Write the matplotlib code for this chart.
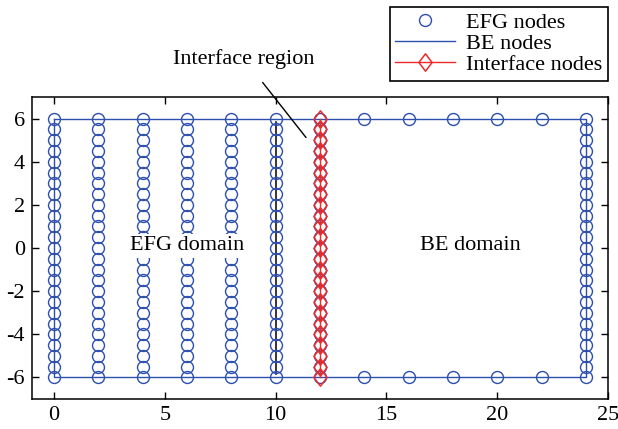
import numpy as np
import matplotlib
matplotlib.use("Agg")
import matplotlib.pyplot as plt
from matplotlib.path import Path

plt.rcParams['font.family'] = ['Liberation Serif', 'DejaVu Serif']
plt.rcParams['axes.unicode_minus'] = False

# Node layout
column_x = [0, 2, 4, 6, 8, 10, 12, 24]
node_y = [-6.0, -5.5, -5.0, -4.5, -4.0, -3.5, -3.0, -2.5, -2.0, -1.5, -1.0, -0.5,
          0.0, 0.5, 1.0, 1.5, 2.0, 2.5, 3.0, 3.5, 4.0, 4.5, 5.0, 5.5, 6.0]
edge_x = [14, 16, 18, 20, 22]
edge_y = [-6.0, 6.0]

# Boundary element outline
be_x = [0, 24, 24, 0, 0]
be_y = [6, 6, -6, -6, 6]

# Interface column
interface_x = 12
divider_x = 10

blue = '#2d4fae'
red = '#ee2a2a'

efg_x = [cx for cx in column_x for _ in node_y] + [ex for ex in edge_x for _ in edge_y]
efg_y = [ny for _ in column_x for ny in node_y] + [ey for _ in edge_x for ey in edge_y]

# Diamond slightly narrower than tall
diamond = Path([(0, 1), (0.76, 0), (0, -1), (-0.76, 0), (0, 1)],
               [Path.MOVETO, Path.LINETO, Path.LINETO, Path.LINETO, Path.CLOSEPOLY])

fs = 16

fig = plt.figure(figsize=(6.18, 4.29), dpi=100)
ax = fig.add_axes([32 / 618, 1 - 399 / 429, (608 - 32) / 618, (399 - 97) / 429])

h_efg, = ax.plot(efg_x, efg_y, linestyle='none', marker='o', markersize=8.6,
                 markerfacecolor='none', markeredgecolor=blue, markeredgewidth=1.0,
                 label='EFG nodes', zorder=3)
h_be, = ax.plot(be_x, be_y, color=blue, linewidth=1.0, label='BE nodes', zorder=2)
h_if, = ax.plot([interface_x] * len(node_y), node_y, color=red, linewidth=1.0,
                marker=diamond, markersize=12.5, markerfacecolor='none',
                markeredgecolor=red, markeredgewidth=1.1,
                label='Interface nodes', zorder=4)

# Divider between the EFG columns and the interface
ax.plot([divider_x, divider_x], [5.85, -5.85], color='black', linewidth=1.1, zorder=2.5)

ax.text(6.0, 0.1, 'EFG domain', fontsize=fs, ha='center', va='center', zorder=5,
        bbox=dict(facecolor='white', edgecolor='none', pad=2))
ax.text(18.8, 0.1, 'BE domain', fontsize=fs, ha='center', va='center', zorder=5,
        bbox=dict(facecolor='white', edgecolor='none', pad=2))

ax.annotate('Interface region', xy=(11.37, 5.12), xytext=(8.57, 8.77),
            fontsize=fs, ha='center', va='center', annotation_clip=False,
            arrowprops=dict(arrowstyle='-', color='black', linewidth=1.0,
                            shrinkA=10, shrinkB=0))

ax.set_xlim(-1, 25)
ax.set_ylim(-7, 7)
ax.set_xticks([0, 5, 10, 15, 20, 25])
ax.set_yticks([-6, -4, -2, 0, 2, 4, 6])
ax.tick_params(direction='in', top=True, right=True, length=5, width=1.0,
               labelsize=fs, pad=5)
for s in ax.spines.values():
    s.set_linewidth(1.1)

leg = fig.legend(handles=[h_efg, h_be, h_if], loc='upper right',
                 bbox_to_anchor=(608 / 618, 1 - 7 / 429), fontsize=fs,
                 frameon=True, fancybox=False, edgecolor='black', framealpha=1,
                 borderaxespad=0, handlelength=2.7, handletextpad=0.5,
                 labelspacing=0.02, borderpad=0.25)
leg.get_frame().set_linewidth(1.2)

fig.savefig('out.png', dpi=100)
